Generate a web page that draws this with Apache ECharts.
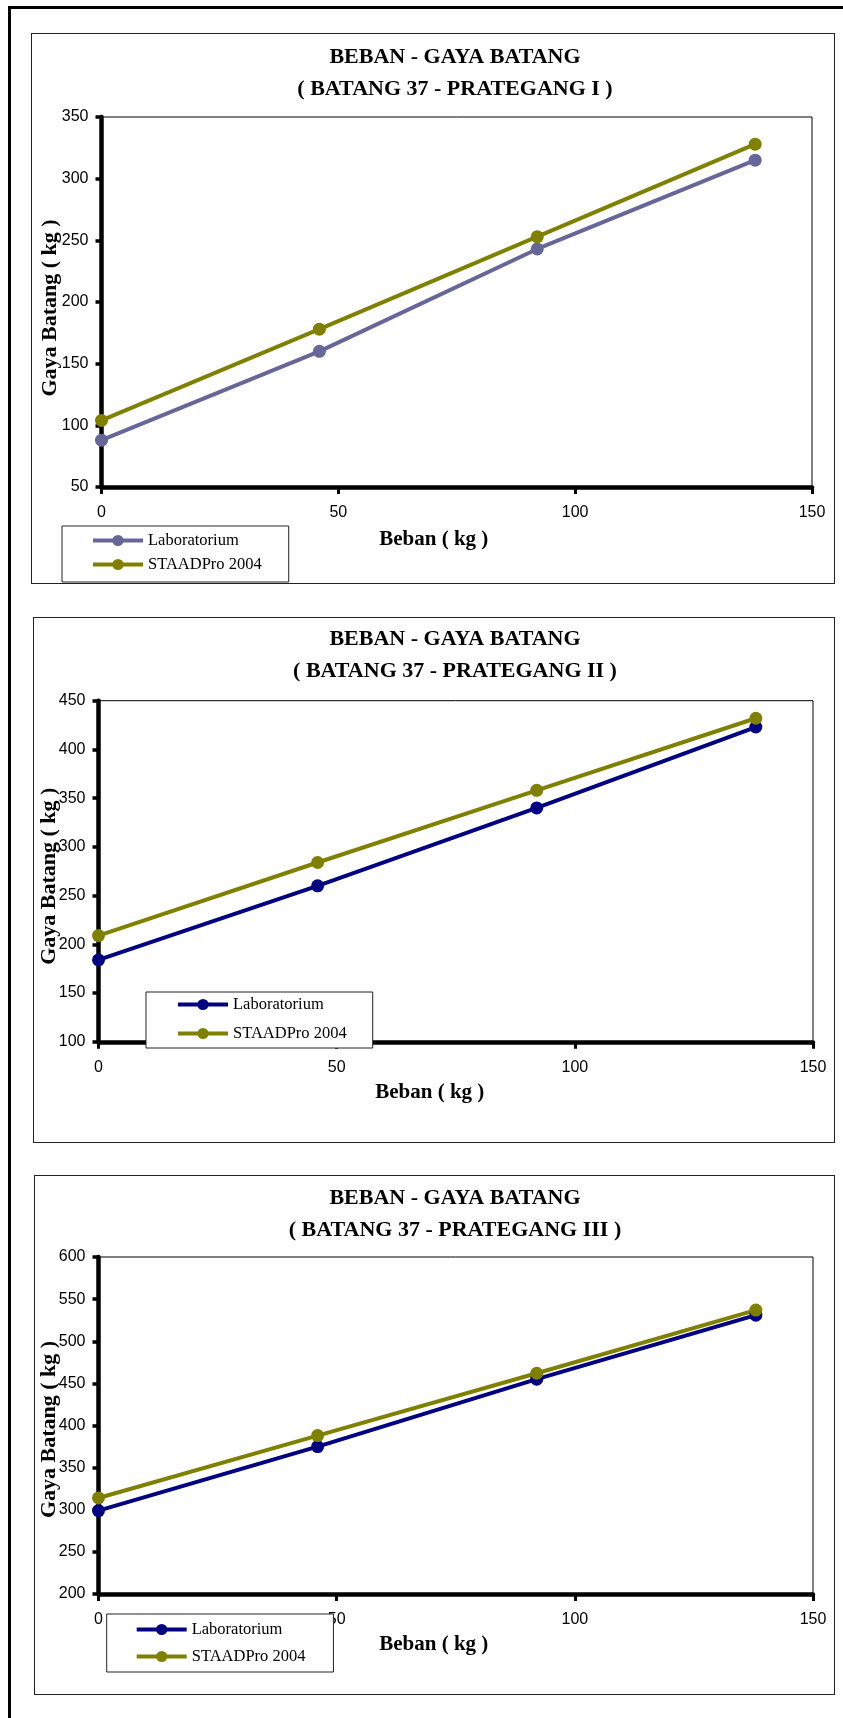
<!DOCTYPE html>
<html><head><meta charset="utf-8">
<script src="https://cdn.jsdelivr.net/npm/echarts@6/dist/echarts.min.js"></script>
<style>
html,body{margin:0;padding:0;background:#fff;}
body{width:843px;height:1718px;position:relative;overflow:hidden;}
.frameTop{position:absolute;left:8px;top:6px;width:835px;height:3px;background:#000;}
.frameLeft{position:absolute;left:8px;top:6px;width:3px;height:1712px;background:#000;}
.box{position:absolute;border:1px solid #222;box-sizing:border-box;background:#fff;}
</style></head><body>
<div class="frameTop"></div><div class="frameLeft"></div>
<div id="c1" class="box" style="left:31px;top:33px;width:804px;height:551px"></div>
<div id="c2" class="box" style="left:33px;top:617px;width:802px;height:526px"></div>
<div id="c3" class="box" style="left:34px;top:1175px;width:801px;height:520px"></div>
<script>
// ---- data ----
const beban = [0, 46, 92, 138];
const lab1 = [88, 160, 243, 315];
const staad1 = [104, 178, 253, 328];
const lab2 = [184, 260, 340, 423];
const staad2 = [209, 284, 358, 432];
const lab3 = [299, 375, 455, 531];
const staad3 = [314, 388, 462, 537];
const seriesNames = ['Laboratorium', 'STAADPro 2004'];
const mainTitle = 'BEBAN - GAYA BATANG';
const subTitles = ['( BATANG 37 - PRATEGANG I )', '( BATANG 37 - PRATEGANG II )', '( BATANG 37 - PRATEGANG III )'];
const xName = 'Beban ( kg )';
const yName = 'Gaya Batang ( kg )';
const xRange = [0, 150, 50];
const yRanges = [[50, 350, 50], [100, 450, 50], [200, 600, 50]];

// ---- layout (page coordinates) ----
const charts = [
  { id: 'c1', lab: lab1, staad: staad1, colors: ['#666699', '#808000'],
    grid: { l: 101.5, t: 117, r: 812, b: 487 }, titleY: 57,
    xn: { dx: -23, gap: 42 }, yn: { dy: 6, gap: 40 },
    legend: { x: 62, y: 526, pad: [6, 27, 9, 29], gap: 7 } },
  { id: 'c2', lab: lab2, staad: staad2, colors: ['#000080', '#808000'],
    grid: { l: 98.5, t: 700.7, r: 813, b: 1041.8 }, titleY: 639,
    xn: { dx: -26, gap: 40 }, yn: { dy: 5, gap: 38 },
    legend: { x: 146, y: 992, pad: [4, 26, 6, 30], gap: 12 } },
  { id: 'c3', lab: lab3, staad: staad3, colors: ['#000080', '#808000'],
    grid: { l: 98.5, t: 1257, r: 813, b: 1594 }, titleY: 1198,
    xn: { dx: -22, gap: 40 }, yn: { dy: 4, gap: 38 },
    legend: { x: 106.7, y: 1614, pad: [7, 28, 7, 28], gap: 10 } }
];

charts.forEach(function (c, i) {
  const el = document.getElementById(c.id);
  const ox = el.offsetLeft + 1, oy = el.offsetTop + 1;
  const W = el.clientWidth, H = el.clientHeight;
  const chart = echarts.init(el, null, { renderer: 'canvas', width: W, height: H });
  const titleCenter = 455;
  const yr = yRanges[i];
  const axisLabelStyle = { fontFamily: 'Liberation Sans', fontSize: 16, color: '#000' };
  const nameStyle = { fontFamily: 'Liberation Serif', fontWeight: 'bold', color: '#000' };
  const mk = function (name, vals, color) {
    return {
      type: 'line', name: name,
      data: beban.map(function (x, k) { return [x, vals[k]]; }),
      symbol: 'circle', symbolSize: 13, showSymbol: true,
      lineStyle: { width: 4, color: color },
      itemStyle: { color: color },
      emphasis: { disabled: true }, animation: false
    };
  };
  chart.setOption({
    animation: false,
    title: {
      text: mainTitle + '\n' + subTitles[i],
      left: titleCenter - ox, textAlign: 'center', top: c.titleY - 16 - oy,
      padding: 0,
      textStyle: { fontFamily: 'Liberation Serif', fontWeight: 'bold', fontSize: 22, lineHeight: 32, color: '#000' }
    },
    grid: {
      left: c.grid.l - ox, top: c.grid.t - oy,
      width: c.grid.r - c.grid.l, height: c.grid.b - c.grid.t,
      containLabel: false, outerBoundsMode: 'none',
      show: true, borderColor: '#000', borderWidth: 1, backgroundColor: '#fff'
    },
    xAxis: {
      type: 'value', min: xRange[0], max: xRange[1], interval: xRange[2],
      name: xName, nameLocation: 'middle', nameGap: c.xn.gap, nameMoveOverlap: false,
      nameTextStyle: Object.assign({ fontSize: 21, padding: [0, -2 * c.xn.dx, 0, 0] }, nameStyle),
      axisLine: { show: true, onZero: false, lineStyle: { color: '#000', width: 4.5 } },
      axisTick: { show: true, length: 7, lineStyle: { color: '#000', width: 3 } },
      axisLabel: Object.assign({ margin: 18 }, axisLabelStyle),
      splitLine: { show: false }
    },
    yAxis: {
      type: 'value', min: yr[0], max: yr[1], interval: yr[2],
      name: yName, nameLocation: 'middle', nameGap: c.yn.gap, nameRotate: 90, nameMoveOverlap: false,
      nameTextStyle: Object.assign({ fontSize: 22, padding: [0, 2 * c.yn.dy, 0, 0] }, nameStyle),
      axisLine: { show: true, onZero: false, lineStyle: { color: '#000', width: 4.5 } },
      axisTick: { show: true, length: 6, lineStyle: { color: '#000', width: 3.5 } },
      axisLabel: Object.assign({ margin: 13 }, axisLabelStyle),
      splitLine: { show: false }
    },
    legend: {
      data: seriesNames, orient: 'vertical',
      left: c.legend.x - ox, top: c.legend.y - oy,
      padding: c.legend.pad, itemGap: c.legend.gap,
      itemWidth: 50, itemHeight: 14,
      backgroundColor: '#fff', borderColor: '#222', borderWidth: 1, borderRadius: 0,
      lineStyle: { width: 4 },
      textStyle: { fontFamily: 'Liberation Serif', fontSize: 16.5, color: '#000' },
      selectedMode: false
    },
    series: [mk(seriesNames[0], c.lab, c.colors[0]), mk(seriesNames[1], c.staad, c.colors[1])]
  });
});
</script>
</body></html>
